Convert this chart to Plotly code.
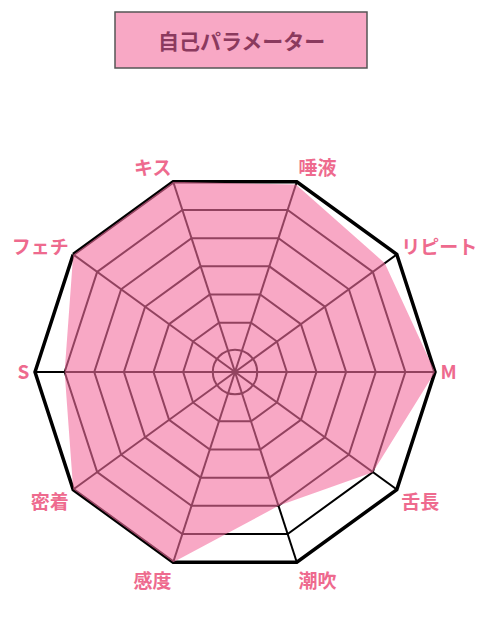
import plotly.graph_objects as go

# ---- data ----
categories = ["キス", "唾液", "リピート", "M", "舌長", "潮吹", "感度", "密着", "S", "フェチ"]
values = [7, 6.9, 6.5, 7, 6, 5, 7, 7, 6, 7]
ring_levels = [2, 3, 4, 5, 6]
inner_ring = [1]
max_level = 7
title_text = "自己パラメーター"

FONT = "Noto Sans CJK JP"
PINK_FILL = "rgba(243,110,158,0.6)"
LABEL_COLOR = "#EE6A8E"
TITLE_COLOR = "#8B3A5E"

fig = go.Figure()

fig.add_trace(go.Scatterpolar(
    r=values + values[:1],
    theta=categories + categories[:1],
    fill="toself",
    fillcolor=PINK_FILL,
    line=dict(width=0, color="rgba(0,0,0,0)"),
    mode="lines",
    hoverinfo="skip",
    showlegend=False,
    subplot="polar",
))

# empty trace to realise the overlay subplot holding the round inner ring
fig.add_trace(go.Scatterpolar(
    r=[None], theta=[categories[0]], mode="lines",
    showlegend=False, hoverinfo="skip", subplot="polar2",
))

cx, cy, R = 235, 372, 200
domain = dict(x=[(cx - R) / 480, (cx + R) / 480],
              y=[1 - (cy + R) / 640, 1 - (cy - R) / 640])

fig.update_layout(
    width=480, height=640,
    margin=dict(l=0, r=0, t=0, b=0),
    paper_bgcolor="white",
    plot_bgcolor="white",
    showlegend=False,
    polar=dict(
        domain=domain,
        bgcolor="rgba(0,0,0,0)",
        gridshape="linear",
        radialaxis=dict(
            range=[0.25, max_level],
            tickvals=ring_levels,
            showticklabels=False,
            ticks="",
            showline=False,
            gridcolor="black",
            gridwidth=1.6,
            layer="below traces",
        ),
        angularaxis=dict(
            rotation=108,
            direction="clockwise",
            categoryarray=categories,
            showline=True,
            linecolor="black",
            linewidth=3.5,
            gridcolor="black",
            gridwidth=1.6,
            ticks="",
            layer="below traces",
            tickfont=dict(family=FONT, size=19, color=LABEL_COLOR, weight="bold"),
        ),
    ),
    polar2=dict(
        domain=domain,
        bgcolor="rgba(0,0,0,0)",
        gridshape="circular",
        radialaxis=dict(
            range=[0.25, max_level],
            tickvals=inner_ring,
            showticklabels=False,
            ticks="",
            showline=False,
            gridcolor="#92425F",
            gridwidth=1.6,
        ),
        angularaxis=dict(
            rotation=108,
            direction="clockwise",
            categoryarray=categories,
            showline=False,
            showgrid=False,
            showticklabels=False,
            ticks="",
        ),
    ),
    shapes=[dict(
        type="rect", xref="paper", yref="paper",
        x0=115 / 480, x1=367 / 480, y0=1 - 68 / 640, y1=1 - 12 / 640,
        fillcolor="#F8A8C5", line=dict(color="#555555", width=1.5),
        layer="below",
    )],
    annotations=[dict(
        text=title_text, xref="paper", yref="paper",
        x=241 / 480, y=1 - 40 / 640, xanchor="center", yanchor="middle",
        showarrow=False,
        font=dict(family=FONT, size=21, color=TITLE_COLOR, weight="bold"),
    )],
)

fig.write_html("out.html", config={"displayModeBar": False},
               post_script="document.body.style.margin='0';")
